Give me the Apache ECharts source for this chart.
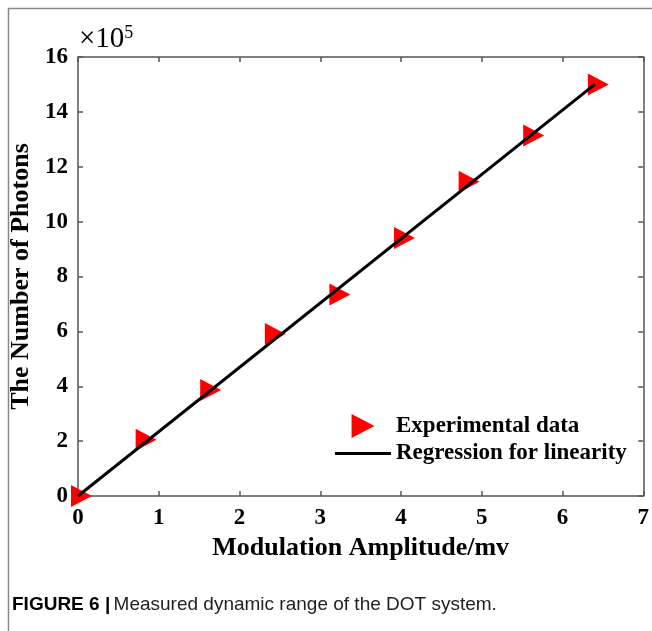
<!DOCTYPE html>
<html><head><meta charset="utf-8">
<script src="https://cdn.jsdelivr.net/npm/echarts@6/dist/echarts.min.js"></script>
<style>html,body{margin:0;padding:0;background:#fff;}#c{width:652px;height:631px;}</style>
</head><body><div id="c"></div>
<script>
// Data
const amplitude = [0, 0.8, 1.6, 2.4, 3.2, 4.0, 4.8, 5.6, 6.4];           // mV
const photons   = [0, 2.05, 3.86, 5.90, 7.34, 9.40, 11.45, 13.14, 15.00]; // x10^5
const fitX = [0, 6.4];
const fitY = [0, 15.0];
const xTicks = [0, 1, 2, 3, 4, 5, 6, 7];
const yTicks = [0, 2, 4, 6, 8, 10, 12, 14, 16];

const serif = "'Liberation Serif','Times New Roman',serif";
const sans = "'Liberation Sans Narrow','Liberation Sans',Arial,sans-serif";
const axisCol = '#555';
const chart = echarts.init(document.getElementById('c'), null, {renderer: 'canvas'});

const expData = amplitude.map((x, i) => [x, photons[i]]);
const fitData = fitX.map((x, i) => [x, fitY[i]]);

const baseAxis = {
  axisLine: {show: true, onZero: false, lineStyle: {color: axisCol, width: 1.5}},
  axisTick: {show: true, inside: true, length: 5, lineStyle: {color: axisCol, width: 1.5}},
  splitLine: {show: false}
};

chart.setOption({
  animation: false,
  backgroundColor: '#fff',
  grid: {left: 78, top: 57, right: 6, bottom: 135},
  legend: {
    orient: 'vertical', left: 335, top: 414, padding: 0,
    itemWidth: 56, itemHeight: 24, itemGap: 4,
    textStyle: {fontFamily: serif, fontWeight: 'bold', fontSize: 23, color: '#000'},
    data: [
      {name: 'Experimental data', icon: 'path://M0,0L21,11L0,22Z'},
      {name: 'Regression for linearity', icon: 'path://M0,0L56,0L56,3L0,3Z'}
    ]
  },
  xAxis: [
    Object.assign({}, baseAxis, {
      type: 'value', position: 'bottom', min: 0, max: 7, interval: 1,
      name: 'Modulation Amplitude/mv', nameLocation: 'middle', nameGap: 39,
      nameTextStyle: {fontFamily: serif, fontWeight: 'bold', fontSize: 26, color: '#000'},
      axisLabel: {fontFamily: serif, fontWeight: 'bold', fontSize: 23, color: '#000', margin: 11,
        formatter: v => xTicks.includes(v) ? String(v) : ''}
    }),
    Object.assign({}, baseAxis, {
      type: 'value', position: 'top', min: 0, max: 7, interval: 1,
      axisLabel: {show: false}
    })
  ],
  yAxis: [
    Object.assign({}, baseAxis, {
      type: 'value', position: 'left', min: 0, max: 16, interval: 2,
      name: 'The Number of Photons', nameLocation: 'middle', nameGap: 43,
      nameTextStyle: {fontFamily: serif, fontWeight: 'bold', fontSize: 26, color: '#000'},
      axisLabel: {fontFamily: serif, fontWeight: 'bold', fontSize: 23, color: '#000', margin: 10,
        formatter: v => yTicks.includes(v) ? String(v) : ''}
    }),
    Object.assign({}, baseAxis, {
      type: 'value', position: 'right', min: 0, max: 16, interval: 2,
      axisLabel: {show: false}
    })
  ],
  series: [
    {
      name: 'Experimental data', type: 'scatter', data: expData,
      symbol: 'triangle', symbolSize: [22, 21], symbolRotate: -90, symbolOffset: [3.5, 0],
      itemStyle: {color: '#ff0000', opacity: 1}, z: 2
    },
    {
      name: 'Regression for linearity', type: 'line', data: fitData,
      showSymbol: false, symbol: 'none',
      lineStyle: {color: '#000', width: 3}, itemStyle: {color: '#000'}, z: 3
    }
  ],
  graphic: [
    {type: 'line', shape: {x1: 8, y1: 8.5, x2: 652, y2: 8.5}, style: {stroke: '#888', lineWidth: 1.5}, silent: true},
    {type: 'line', shape: {x1: 8.5, y1: 8, x2: 8.5, y2: 631}, style: {stroke: '#888', lineWidth: 1.5}, silent: true},
    {type: 'text', left: 79, top: 24, style: {
      text: '{a|×10}{b|5}',
      rich: {
        a: {fontFamily: serif, fontSize: 29, fill: '#000', verticalAlign: 'bottom'},
        b: {fontFamily: serif, fontSize: 18, fill: '#000', verticalAlign: 'top', padding: [0, 0, 12, 0]}
      }
    }},
    {type: 'text', left: 12, top: 595, style: {
      text: '{b|FIGURE 6 |} {r|Measured dynamic range of the DOT system.}',
      rich: {
        b: {fontFamily: sans, fontWeight: 'bold', fontSize: 19, fill: '#000'},
        r: {fontFamily: sans, fontSize: 19, fill: '#222'}
      }
    }}
  ]
});
</script></body></html>
